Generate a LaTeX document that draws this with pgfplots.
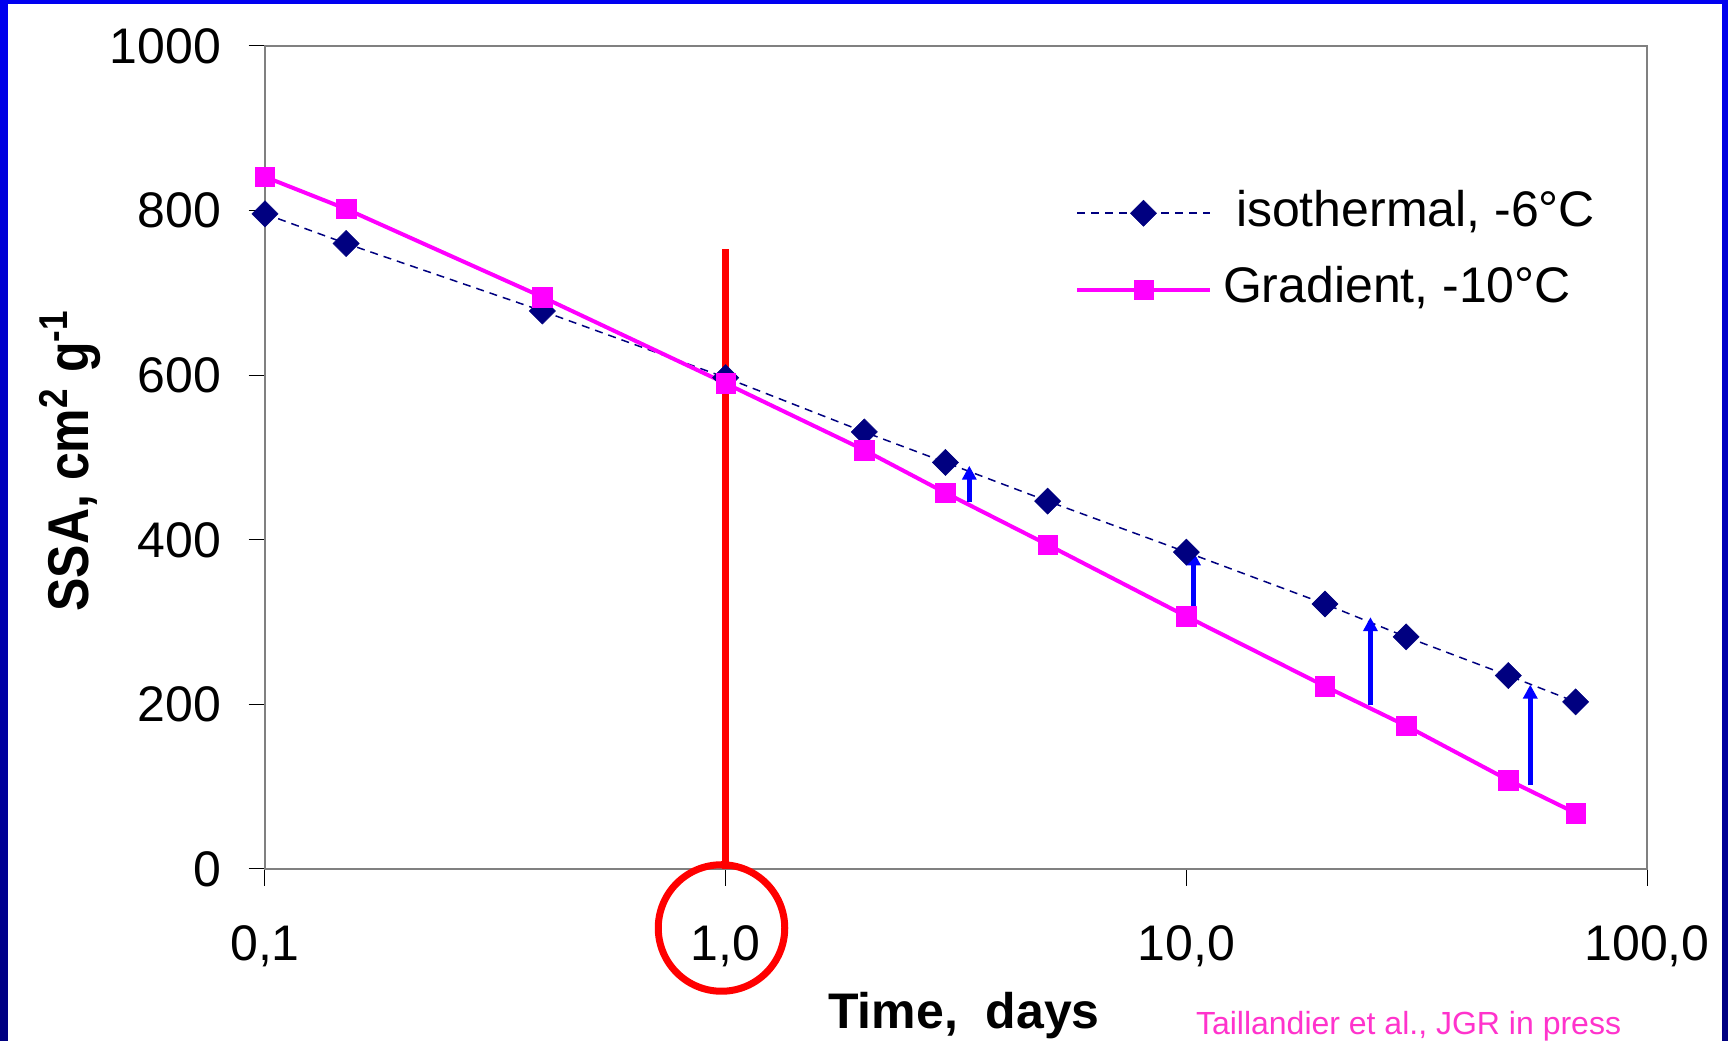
\documentclass[border=0pt]{standalone}
\usepackage{graphicx}
\usepackage{pgfplots}
\pgfplotsset{compat=1.18}
\usepackage{fontspec}
\setmainfont{Liberation Sans}
\usetikzlibrary{arrows.meta}

\definecolor{isonavy}{HTML}{000080}
\definecolor{gradmag}{HTML}{FF00FF}
\definecolor{arrowblue}{HTML}{0000FF}
\definecolor{citepink}{HTML}{FF33CC}
\definecolor{frametop}{HTML}{0000F0}
\definecolor{framebot}{HTML}{000080}
\definecolor{axisgray}{HTML}{808080}

\begin{document}
\begin{tikzpicture}
% slide frame
\shade[top color=frametop, bottom color=framebot] (0pt,0pt) rectangle (345.6pt,208.2pt);
\fill[white] (1.6pt,0pt) rectangle (344.4pt,207.4pt);

\begin{axis}[
  at={(53pt,34.4pt)}, anchor=south west,
  width=276.4pt, height=164.6pt, scale only axis,
  xmode=log, xmin=0.1, xmax=100, ymin=0, ymax=1000,
  xtick={0.1,1,10,100}, xticklabels={{0,1},{1,0},{10,0},{100,0}},
  xminorticks=false,
  ytick={0,200,400,600,800,1000},
  axis line style={draw=axisgray, line width=0.4pt},
  tick style={black, line width=0.2pt},
  tick align=outside, major tick length=3.3pt,
  xtick pos=bottom, ytick pos=left,
  ticklabel style={font=\fontsize{10}{12}\selectfont, inner sep=0pt},
  /pgf/number format/assume math mode=true,
  /pgf/number format/1000 sep={},
  yticklabel style={xshift=-5.3pt},
  xticklabel style={yshift=-7.9pt},
  xlabel={Time,\ \ days},
  xlabel style={at={(axis description cs:0.5058,-0.1932)}, anchor=base,
    font=\bfseries\fontsize{10}{12}\selectfont, inner sep=0pt},
  ylabel={\scalebox{1}[1.15]{SSA, cm\textsuperscript{2} g\textsuperscript{-1}}},
  ylabel style={at={(axis description cs:-0.128,0.497)}, anchor=base,
    font=\bfseries\fontsize{10}{12}\selectfont, inner sep=0pt},
  legend style={draw=none, fill=none, at={(axis description cs:0.5854,0.7503)},
    anchor=west, inner sep=0pt, row sep=5.9pt, column sep=2.2pt,
    font=\fontsize{10}{12}\selectfont,
    nodes={inner sep=0pt, text height=7.3pt, text depth=2.1pt}},
  legend cell align=left,
  legend image code/.code={
    \draw[mark repeat=2, mark phase=2, #1] plot coordinates {(0pt,0pt) (13.3pt,0pt) (26.6pt,0pt)};
  },
  clip=false,
]
% isothermal, -6 C
\addplot[isonavy, line width=0.3pt, dash pattern=on 1.6pt off 1.2pt,
  mark=square*, mark size=1.85pt,
  mark options={solid, rotate=45, fill=isonavy, draw=isonavy, line width=0.1pt}]
  coordinates {
  (0.1,796)(0.15,760)(0.4,678)(1,597)(2,531)(3,494)
  (5,447)(10,385)(20,322)(30,282)(50,235)(70,203)
};
\addlegendentry{\hspace{2.6pt}isothermal, -6°C}
% Gradient, -10 C
\addplot[gradmag, line width=0.8pt,
  mark=square*, mark size=1.95pt,
  mark options={solid, fill=gradmag, draw=gradmag, line width=0.1pt}]
  coordinates {
  (0.1,841)(0.15,802)(0.4,695)(1,590)(2,509)(3,457)
  (5,394)(10,307)(20,222)(30,174)(50,108)(70,68)
};
\addlegendentry{Gradient, -10°C}
% red marker line at 1 day
\addplot[red, line width=1.5pt, forget plot] coordinates {(1,0)(1,753)};
% blue difference arrows
\addplot[arrowblue, line width=1pt, -{Triangle[length=2.8pt,width=2.8pt]}, forget plot]
  coordinates {(3.38,446)(3.38,490)};
\addplot[arrowblue, line width=1pt, -{Triangle[length=2.8pt,width=2.8pt]}, forget plot]
  coordinates {(10.36,306)(10.36,386)};
\addplot[arrowblue, line width=1pt, -{Triangle[length=2.8pt,width=2.8pt]}, forget plot]
  coordinates {(25.1,199)(25.1,306)};
\addplot[arrowblue, line width=1pt, -{Triangle[length=2.8pt,width=2.8pt]}, forget plot]
  coordinates {(55.8,102)(55.8,224)};
\end{axis}

% circle round the 1,0 label
\draw[red, line width=1.4pt] (144.3pt,22.6pt) circle (12.65pt);
% citation
\node[anchor=base west, text=citepink, font=\fontsize{6.4}{7}\selectfont, inner sep=0pt]
  at (239pt,1.2pt) {Taillandier et al., JGR in press};
\end{tikzpicture}
\end{document}
